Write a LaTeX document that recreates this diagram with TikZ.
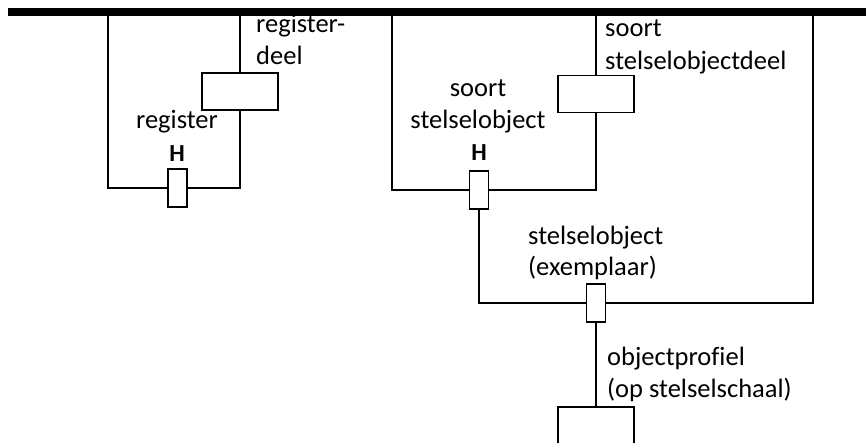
\documentclass[tikz,border=0pt]{standalone}
\usepackage{fontspec}
\setmainfont[Ligatures=NoCommon]{Carlito}
\begin{document}
\begin{tikzpicture}[x=1pt,y=-1pt,
  ln/.style={line width=1.6pt},
  box/.style={draw,line width=1.6pt,fill=white,inner sep=0pt},
  hbox/.style={box,minimum width=19pt,minimum height=38pt},
  wbox/.style={box,minimum width=76pt,minimum height=37pt},
  lbl/.style={inner sep=0pt,font=\fontsize{26.5}{31.8}\selectfont},
  hl/.style={inner sep=0pt,font=\fontsize{24.5}{28}\selectfont\bfseries}]
\clip (0,0) rectangle (866,443);
\useasboundingbox (0,0) rectangle (866,443);
% top bar
\node[fill=black,inner sep=0pt,minimum width=858pt,minimum height=7.4pt] (bar) at (437,12) {};
% boxes
\node[wbox] (regdeel) at (240,91.5) {};
\node[hbox] (hreg) at (177.5,188) {};
\node[wbox] (ssodeel) at (596,94) {};
\node[hbox] (hsso) at (479,190) {};
\node[hbox] (hexp) at (596,303) {};
\node[box,minimum width=76pt,minimum height=60pt] (prof) at (596,437) {};
\coordinate (la) at (108,188);
\coordinate (ma) at (392,190);
\coordinate (ra) at (813,303);
\coordinate (sb) at (479,303);
% connectors
\draw[ln] (bar.south -| la) -- (la) -- (hreg.west);
\draw[ln] (hreg.east) -| (regdeel.south);
\draw[ln] (regdeel.north) -- (regdeel.north |- bar.south);
\draw[ln] (bar.south -| ma) -- (ma) -- (hsso.west);
\draw[ln] (hsso.east) -| (ssodeel.south);
\draw[ln] (ssodeel.north) -- (ssodeel.north |- bar.south);
\draw[ln] (hsso.south) -- (sb) -- (hexp.west);
\draw[ln] (hexp.east) -- (ra) -- (ra |- bar.south);
\draw[ln] (hexp.south) -- (prof.north);
% labels
\node[lbl,anchor=base west] (t1) at (256,33) {register-};
\node[lbl,anchor=base west] (t2) at (256,65) {deel};
\node[lbl,anchor=base] (t3) at (177,129) {register};
\node[hl,anchor=base] (t4) at (177,161.5) {H};
\node[lbl,anchor=base] (t5) at (478,97) {soort};
\node[lbl,anchor=base] (t6) at (478,128.5) {stelselobject};
\node[hl,anchor=base] (t7) at (479,161) {H};
\node[lbl,anchor=base west] (t8) at (605,37) {soort};
\node[lbl,anchor=base west] (t9) at (605,70) {stelselobjectdeel};
\node[lbl,anchor=base west] (t10) at (528,245) {stelselobject};
\node[lbl,anchor=base west] (t11) at (528,276) {(exemplaar)};
\node[lbl,anchor=base west] (t12) at (607,365.5) {objectprofiel};
\node[lbl,anchor=base west] (t13) at (607,397) {(op stelselschaal)};
\end{tikzpicture}
\end{document}
